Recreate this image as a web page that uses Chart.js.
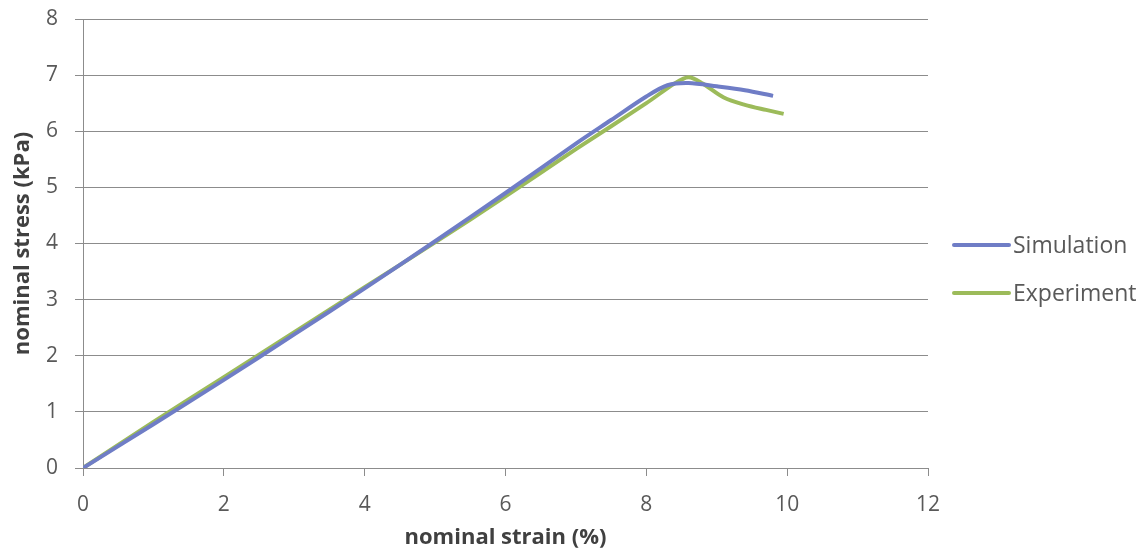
<!DOCTYPE html>
<html>
<head>
<meta charset="utf-8">
<script src="https://cdn.jsdelivr.net/npm/chart.js@4.4.1/dist/chart.umd.min.js"></script>
<style>
  html, body { margin: 0; padding: 0; background: #ffffff; }
  #wrap { width: 1146px; height: 554px; }
</style>
</head>
<body>
<div id="wrap"><canvas id="graficoTension"></canvas></div>
<script>
// Curvas tensión-deformación (deformación en %, tensión en kPa)
var deformSim = [0, 1, 2, 3, 4, 5, 6, 7, 7.5, 8, 8.3, 8.6, 9, 9.4, 9.8];
var tensionSim = [0, 0.78, 1.57, 2.38, 3.2, 4.04, 4.9, 5.78, 6.2, 6.62, 6.82, 6.86, 6.8, 6.73, 6.63];

var deformExp = [0, 1, 2, 3, 4, 5, 6, 7, 8, 8.4, 8.6, 8.8, 9.1, 9.4, 9.7, 9.95];
var tensionExp = [0, 0.82, 1.62, 2.42, 3.22, 4.02, 4.84, 5.68, 6.5, 6.85, 6.96, 6.85, 6.6, 6.47, 6.38, 6.31];

var nombresSeries = ['Simulation', 'Experiment'];
var tituloX = 'nominal strain (%)';
var tituloY = 'nominal stress (kPa)';

function aPuntos(xs, ys) {
  return xs.map(function (x, i) { return { x: x, y: ys[i] }; });
}

var fuente = "'Open Sans', 'Noto Sans', sans-serif";
var gris = '#595959';

// Leyenda a la derecha: trazo de línea + nombre de la serie
var leyendaLateral = {
  id: 'leyendaLateral',
  afterDraw: function (chart) {
    var c = chart.ctx;
    var x0 = 954, y0 = 245, paso = 48;
    c.save();
    c.font = '23px ' + fuente;
    c.textBaseline = 'middle';
    chart.data.datasets.forEach(function (ds, i) {
      var y = y0 + i * paso;
      c.strokeStyle = ds.borderColor;
      c.lineWidth = 4;
      c.lineCap = 'round';
      c.beginPath();
      c.moveTo(x0, y);
      c.lineTo(x0 + 55, y);
      c.stroke();
      c.fillStyle = gris;
      c.fillText(ds.label, x0 + 59, y + 1);
    });
    c.restore();
  }
};

var ctx = document.getElementById('graficoTension').getContext('2d');
var myChart = new Chart(ctx, {
  type: 'line',
  data: {
    datasets: [{
      label: nombresSeries[0],
      data: aPuntos(deformSim, tensionSim),
      borderColor: '#6f7dc6',
      backgroundColor: '#6f7dc6',
      borderWidth: 4,
      pointRadius: 0,
      tension: 0.3,
      fill: false
    }, {
      label: nombresSeries[1],
      data: aPuntos(deformExp, tensionExp),
      borderColor: '#9cbb5a',
      backgroundColor: '#9cbb5a',
      borderWidth: 4,
      pointRadius: 0,
      tension: 0.3,
      fill: false
    }]
  },
  options: {
    responsive: true,
    maintainAspectRatio: false,
    animation: false,
    layout: { padding: { left: 0, right: 218, top: 19, bottom: 0 } },
    plugins: {
      tooltip: { enabled: false },
      legend: { display: false }
    },
    scales: {
      x: {
        type: 'linear',
        min: 0,
        max: 12,
        afterFit: function (escala) {
          escala.height = 86;
          escala.paddingLeft = 0;
          escala.paddingRight = 0;
        },
        ticks: { stepSize: 2, color: gris, padding: 16, font: { family: fuente, size: 21 } },
        grid: { drawOnChartArea: false, color: '#8c8c8c', tickLength: 8 },
        border: { color: '#8c8c8c', width: 1 },
        title: { display: true, text: tituloX, color: '#404040', padding: { top: 0, bottom: 3 }, font: { family: fuente, size: 22, weight: 'bold' } }
      },
      y: {
        min: 0,
        max: 8,
        afterFit: function (escala) {
          escala.width = 83;
          escala.paddingTop = 0;
          escala.paddingBottom = 0;
        },
        ticks: { stepSize: 1, color: gris, padding: 17, font: { family: fuente, size: 21 } },
        grid: { color: '#8c8c8c', tickLength: 8 },
        border: { color: '#8c8c8c', width: 1 },
        title: { display: true, text: tituloY, color: '#404040', padding: { top: 10, bottom: 0 }, font: { family: fuente, size: 22, weight: 'bold' } }
      }
    }
  },
  plugins: [leyendaLateral]
});
</script>
</body>
</html>
